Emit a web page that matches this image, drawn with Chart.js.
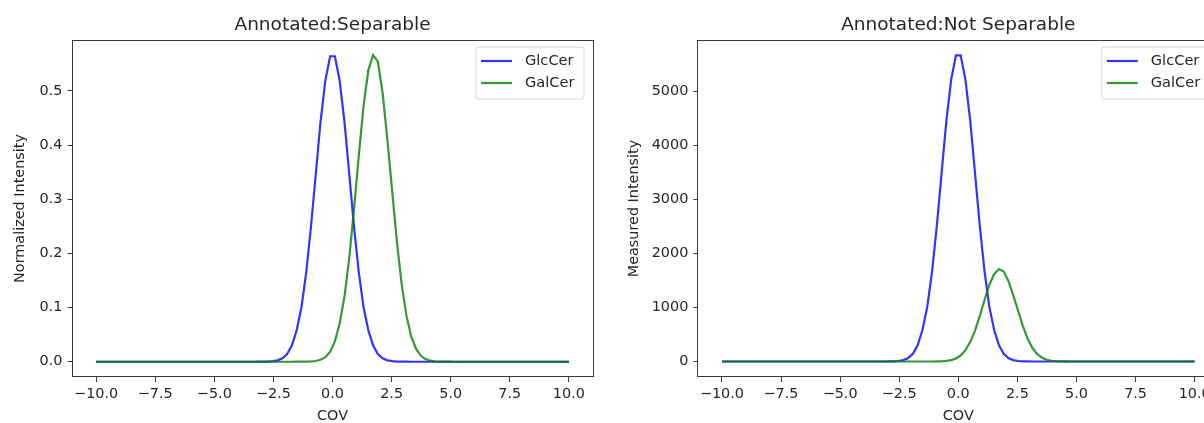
<!DOCTYPE html>
<html>
<head>
<meta charset="utf-8">
<script src="https://cdn.jsdelivr.net/npm/chart.js@4/dist/chart.umd.min.js"></script>
<style>
  html, body { margin: 0; padding: 0; background: #fff; }
  body { width: 1204px; height: 423px; overflow: hidden; position: relative; }
  .panel { position: absolute; top: 0; height: 423px; }
</style>
</head>
<body>
<div class="panel" style="left:0;width:600px"><canvas id="sep" width="600" height="423"></canvas></div>
<div class="panel" style="left:600px;width:630px"><canvas id="notsep" width="630" height="423"></canvas></div>
<script>
// COV sample positions shared by every curve (flat zero tails outside -3.33 .. 5.15)
const cov = [-10, -3.33, -3.13, -2.93, -2.73, -2.53, -2.32, -2.12, -1.92, -1.72, -1.52,
  -1.31, -1.11, -0.91, -0.71, -0.51, -0.30, -0.10, 0.10, 0.30, 0.51, 0.71, 0.91, 1.11,
  1.31, 1.52, 1.72, 1.92, 2.12, 2.32, 2.53, 2.73, 2.93, 3.13, 3.33, 3.54, 3.74, 3.94,
  4.14, 4.34, 4.55, 4.75, 4.95, 5.15, 10];

// Normalized intensity (left panel)
const glcNormalized = [0, 0, 0.00003, 0.00011, 0.00034, 0.00097, 0.00258, 0.00633, 0.01433,
  0.02987, 0.0574, 0.1016, 0.1659, 0.2494, 0.3457, 0.4416, 0.520, 0.564, 0.564, 0.520,
  0.4416, 0.3457, 0.2494, 0.1659, 0.1016, 0.0574, 0.02987, 0.01433, 0.00633, 0.00258,
  0.00097, 0.00034, 0.00011, 0.00003, 0, 0, 0, 0, 0, 0, 0, 0, 0, 0, 0];
const galNormalized = [0, 0, 0, 0, 0, 0, 0, 0, 0, 0, 0.00001, 0.00005, 0.00016, 0.00048,
  0.00136, 0.00353, 0.00842, 0.01853, 0.03758, 0.0702, 0.1210, 0.1921, 0.2811, 0.3790,
  0.4709, 0.5394, 0.5660, 0.5539, 0.4966, 0.4104, 0.3125, 0.2193, 0.1419, 0.0846, 0.0465,
  0.0235, 0.01098, 0.00472, 0.00187, 0.00068, 0.00023, 0.00007, 0.00002, 0, 0];

// Measured intensity (right panel)
const glcMeasured = [0, 0, 0.3, 1.1, 3.4, 9.7, 25.9, 63.6, 144, 300, 577, 1021, 1667, 2507,
  3474, 4438, 5226, 5668, 5668, 5226, 4438, 3474, 2507, 1667, 1021, 577, 300, 144, 63.6,
  25.9, 9.7, 3.4, 1.1, 0.3, 0, 0, 0, 0, 0, 0, 0, 0, 0, 0, 0];
const galMeasured = [0, 0, 0, 0, 0, 0, 0, 0, 0, 0, 0.04, 0.15, 0.5, 1.5, 4.1, 10.6, 25.3,
  55.8, 113, 211, 364, 578, 846, 1140, 1417, 1623, 1713, 1667, 1494, 1235, 940, 660, 427,
  254, 140, 71, 33, 14.2, 5.6, 2.1, 0.7, 0.2, 0.1, 0, 0];

const seriesNames = ['GlcCer', 'GalCer'];
const xTicks = [-10, -7.5, -5, -2.5, 0, 2.5, 5, 7.5, 10];
const yTicksNormalized = [0, 0.1, 0.2, 0.3, 0.4, 0.5];
const yTicksMeasured = [0, 1000, 2000, 3000, 4000, 5000];

const BLUE = 'rgba(0,0,255,0.8)';
const GREEN = 'rgba(0,128,0,0.8)';
const INK = '#262626';
const FONT = 'DejaVu Sans';

Chart.defaults.font.family = FONT;
Chart.defaults.color = INK;

const pts = ys => cov.map((x, i) => ({ x, y: ys[i] }));
const minusFmt = v => (v < 0 ? '\u2212' : '') + Math.abs(v).toFixed(1);

// full box around the plotting area
const frame = {
  id: 'frame',
  afterDraw(chart) {
    const { ctx, chartArea: a } = chart;
    ctx.save();
    ctx.strokeStyle = '#3a3a3a';
    ctx.lineWidth = 1;
    ctx.strokeRect(Math.round(a.left) - 0.5, Math.round(a.top) + 0.5,
      Math.round(a.right) - Math.round(a.left) + 1, Math.round(a.bottom) - Math.round(a.top) - 1);
    ctx.restore();
  }
};

// panel title centred over the plotting area
const panelTitle = {
  id: 'panelTitle',
  afterDraw(chart, args, opts) {
    const { ctx, chartArea: a } = chart;
    ctx.save();
    ctx.font = '18.5px "' + FONT + '"';
    ctx.fillStyle = INK;
    ctx.textAlign = 'center';
    ctx.textBaseline = 'alphabetic';
    ctx.fillText(opts.text, (a.left + a.right) / 2, a.top - 10.5);
    ctx.restore();
  }
};

// legend box drawn inside the upper right corner of the plot
const insetLegend = {
  id: 'insetLegend',
  afterDraw(chart) {
    const { ctx, chartArea: a } = chart;
    const w = 108, h = 52, r = 3;
    const x = a.right - 8.5 - w, y = a.top + 7;
    ctx.save();
    ctx.beginPath();
    ctx.moveTo(x + r, y);
    ctx.arcTo(x + w, y, x + w, y + h, r);
    ctx.arcTo(x + w, y + h, x, y + h, r);
    ctx.arcTo(x, y + h, x, y, r);
    ctx.arcTo(x, y, x + w, y, r);
    ctx.closePath();
    ctx.fillStyle = 'rgba(255,255,255,0.8)';
    ctx.fill();
    ctx.strokeStyle = '#d4d4d4';
    ctx.lineWidth = 1;
    ctx.stroke();
    ctx.font = '14.6px "' + FONT + '"';
    ctx.textBaseline = 'middle';
    ctx.textAlign = 'left';
    chart.data.datasets.forEach((ds, i) => {
      const yy = y + 14 + i * 22;
      ctx.strokeStyle = ds.borderColor;
      ctx.lineWidth = 2.2;
      ctx.beginPath();
      ctx.moveTo(x + 5, yy);
      ctx.lineTo(x + 36, yy);
      ctx.stroke();
      ctx.fillStyle = INK;
      ctx.fillText(ds.label, x + 49, yy);
    });
    ctx.restore();
  }
};

function makeChart(id, cfg) {
  return new Chart(document.getElementById(id), {
    type: 'line',
    data: {
      datasets: [
        { label: seriesNames[0], data: pts(cfg.glc), borderColor: BLUE, borderWidth: 2.2,
          pointRadius: 0, tension: 0, order: 1 },
        { label: seriesNames[1], data: pts(cfg.gal), borderColor: GREEN, borderWidth: 2.2,
          pointRadius: 0, tension: 0, order: 0 }
      ]
    },
    options: {
      responsive: false,
      animation: false,
      layout: { padding: { left: 0, right: cfg.padRight, top: 40, bottom: 0 } },
      plugins: {
        legend: { display: false },
        tooltip: { enabled: false },
        title: { display: false },
        panelTitle: { text: cfg.title }
      },
      scales: {
        x: {
          type: 'linear', min: -11, max: 11,
          afterFit: s => { s.height = 46; },
          afterBuildTicks: s => { s.ticks = xTicks.map(v => ({ value: v })); },
          grid: { display: true, drawOnChartArea: false, drawTicks: true, tickLength: 5, color: '#3a3a3a' },
          border: { display: false },
          ticks: { padding: 4, autoSkip: false, maxRotation: 0, font: { size: 14.4 },
            color: INK, callback: minusFmt },
          title: { display: true, text: 'COV', color: INK,
            font: { size: 14.4, lineHeight: 1 }, padding: { top: 0, bottom: 0 } }
        },
        y: {
          type: 'linear', min: cfg.yMin, max: cfg.yMax,
          afterFit: s => { s.width = cfg.yWidth; },
          afterBuildTicks: s => { s.ticks = cfg.yTicks.map(v => ({ value: v })); },
          grid: { display: true, drawOnChartArea: false, drawTicks: true, tickLength: 5, color: '#3a3a3a' },
          border: { display: false },
          ticks: { padding: 5, autoSkip: false, font: { size: 14.4 },
            color: INK, callback: cfg.yFmt },
          title: { display: true, text: cfg.yTitle, color: INK,
            font: { size: 14.4, lineHeight: 1 }, padding: { top: cfg.yTitlePad, bottom: 0 } }
        }
      }
    },
    plugins: [frame, panelTitle, insetLegend]
  });
}

makeChart('sep', {
  title: 'Annotated:Separable',
  glc: glcNormalized, gal: galNormalized,
  yMin: -0.0282, yMax: 0.594, yTicks: yTicksNormalized,
  yFmt: v => v.toFixed(1),
  yTitle: 'Normalized Intensity', yTitlePad: 13,
  yWidth: 72.5, padRight: 7.5
});

makeChart('notsep', {
  title: 'Annotated:Not Separable',
  glc: glcMeasured, gal: galMeasured,
  yMin: -287, yMax: 5954, yTicks: yTicksMeasured,
  yFmt: v => String(Math.round(v)),
  yTitle: 'Measured Intensity', yTitlePad: 27,
  yWidth: 98.3, padRight: 11.7
});
</script>
</body>
</html>
